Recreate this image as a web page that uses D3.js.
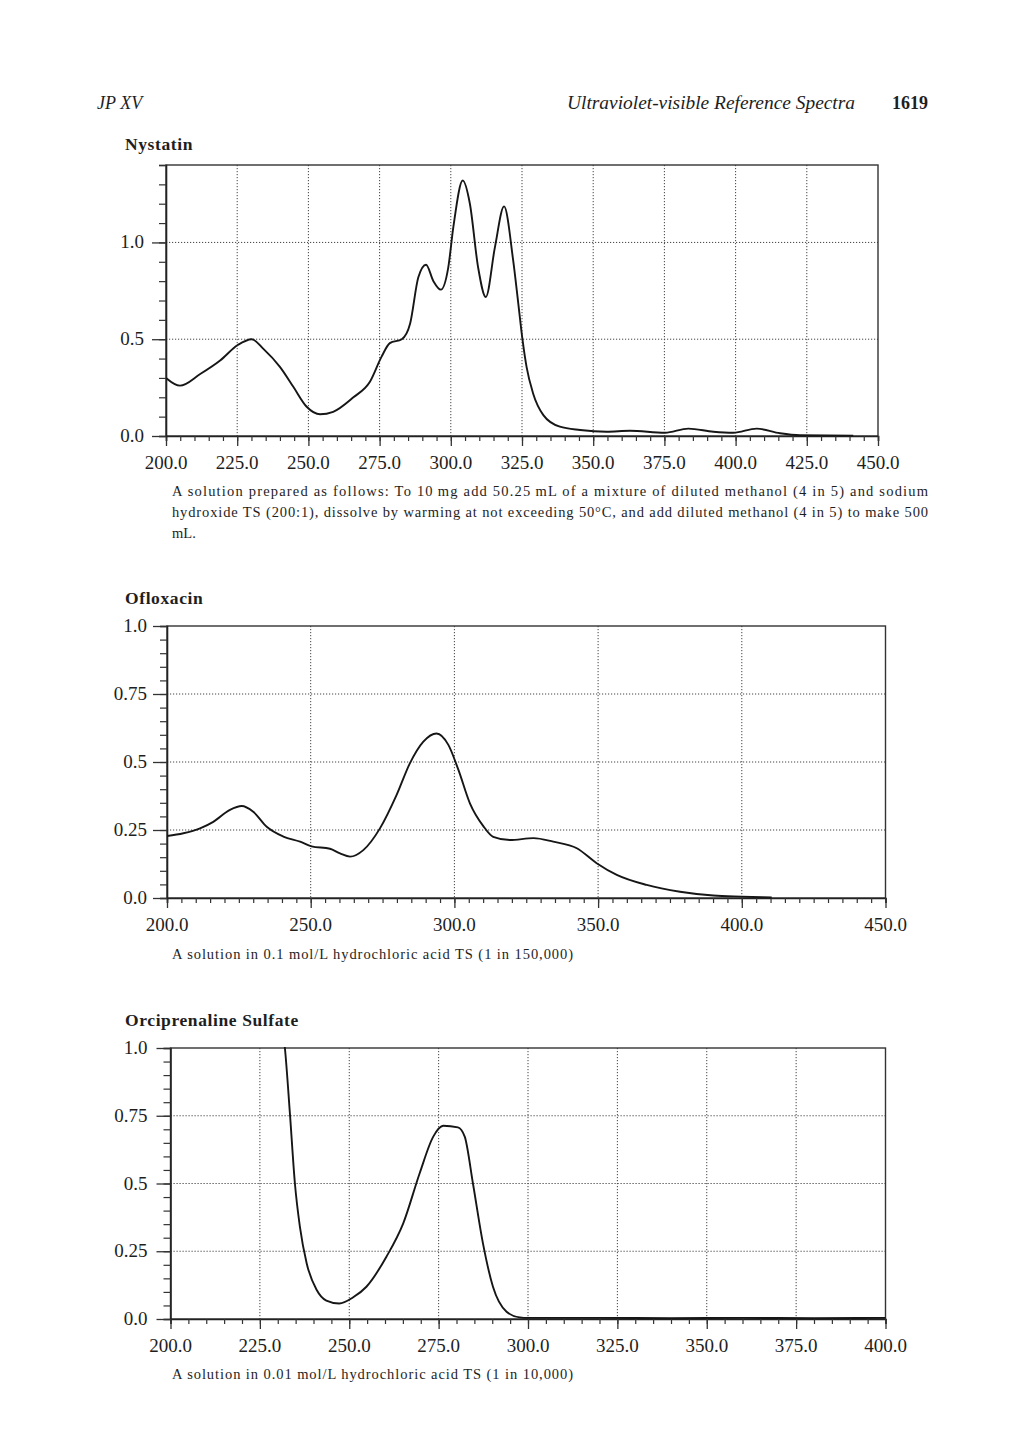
<!DOCTYPE html>
<html>
<head>
<meta charset="utf-8">
<script src="https://cdn.jsdelivr.net/npm/d3@7"></script>
<style>
  html, body { margin: 0; padding: 0; background: #fff; }
  svg { display: block; }
</style>
</head>
<body>
<svg id="page" width="1020" height="1443"></svg>
<script>
// ---------------- DATA ----------------
// Nystatin spectrum (wavelength nm, absorbance)
const nystatinWavelength = [200, 204.9, 212, 219, 225.2, 230.1, 234.2, 240, 244.7, 249.4, 254.1, 258.7, 265.8, 271.6, 275.7, 278.6, 282.8, 285.7, 288.6, 291.3, 293.9, 296.5, 299.1, 300.9, 304.2, 306.7, 309.6, 312.3, 315.5, 318.7, 321.9, 323.7, 325.2, 326.6, 328.9, 332.5, 338.3, 345.4, 354.7, 362.9, 375.2, 383.4, 392.2, 399.2, 407.4, 415.6, 422.6, 441.3];
const nystatinAbsorbance = [0.30, 0.26, 0.32, 0.39, 0.47, 0.50, 0.45, 0.357, 0.254, 0.151, 0.112, 0.125, 0.20, 0.28, 0.41, 0.48, 0.50, 0.58, 0.82, 0.885, 0.80, 0.756, 0.87, 1.08, 1.32, 1.20, 0.87, 0.718, 0.976, 1.186, 0.907, 0.684, 0.495, 0.357, 0.22, 0.108, 0.048, 0.031, 0.022, 0.027, 0.017, 0.038, 0.022, 0.017, 0.038, 0.014, 0.004, 0.002];
const nystatinXTicks = [200, 225, 250, 275, 300, 325, 350, 375, 400, 425, 450];
const nystatinXTickLabels = ["200.0", "225.0", "250.0", "275.0", "300.0", "325.0", "350.0", "375.0", "400.0", "425.0", "450.0"];
const nystatinYTicks = [0, 0.5, 1.0];
const nystatinYTickLabels = ["0.0", "0.5", "1.0"];

// Ofloxacin spectrum
const ofloxacinWavelength = [200, 205.7, 211.5, 216.1, 221.9, 226, 230, 234.7, 240.5, 246.3, 250.3, 256.7, 260.2, 263.7, 268.3, 274.1, 279.9, 284.5, 289.2, 293.8, 297.9, 301.4, 305.4, 310, 313.5, 319.3, 327.5, 334.4, 342.6, 349.5, 356.5, 366.9, 378.5, 390.1, 400, 410.4];
const ofloxacinAbsorbance = [0.228, 0.238, 0.256, 0.28, 0.324, 0.338, 0.317, 0.262, 0.226, 0.207, 0.19, 0.181, 0.164, 0.152, 0.176, 0.256, 0.379, 0.495, 0.575, 0.605, 0.563, 0.471, 0.348, 0.265, 0.225, 0.213, 0.22, 0.207, 0.183, 0.128, 0.085, 0.048, 0.023, 0.009, 0.005, 0.002];
const ofloxacinXTicks = [200, 250, 300, 350, 400, 450];
const ofloxacinXTickLabels = ["200.0", "250.0", "300.0", "350.0", "400.0", "450.0"];
const ofloxacinYTicks = [0, 0.25, 0.5, 0.75, 1.0];
const ofloxacinYTickLabels = ["0.0", "0.25", "0.5", "0.75", "1.0"];

// Orciprenaline Sulfate spectrum
const orciWavelength = [231.5, 232, 233.4, 234.8, 236.2, 238.1, 240.9, 243.6, 247.2, 251.1, 254.8, 260.4, 265.1, 269.7, 273.5, 276.3, 280.4, 282.3, 284.6, 287.4, 290.2, 294, 297.7, 300, 320, 340, 360, 380, 400];
const orciAbsorbance = [1.06, 1.0, 0.759, 0.50, 0.34, 0.205, 0.107, 0.068, 0.057, 0.08, 0.119, 0.23, 0.353, 0.538, 0.673, 0.713, 0.707, 0.673, 0.50, 0.279, 0.119, 0.027, 0.006, 0.004, 0.004, 0.003, 0.004, 0.003, 0.004];
const orciXTicks = [200, 225, 250, 275, 300, 325, 350, 375, 400];
const orciXTickLabels = ["200.0", "225.0", "250.0", "275.0", "300.0", "325.0", "350.0", "375.0", "400.0"];
const orciYTicks = [0, 0.25, 0.5, 0.75, 1.0];
const orciYTickLabels = ["0.0", "0.25", "0.5", "0.75", "1.0"];

// Texts
const headerLeft = "JP XV";
const headerTitle = "Ultraviolet-visible Reference Spectra";
const headerPage = "1619";
const titles = ["Nystatin", "Ofloxacin", "Orciprenaline Sulfate"];
const nystatinCaption = [
  "A solution prepared as follows: To 10\u2009mg add 50.25\u2009mL of a mixture of diluted methanol (4 in 5) and sodium",
  "hydroxide TS (200:1), dissolve by warming at not exceeding 50\u00B0C, and add diluted methanol (4 in 5) to make 500",
  "mL."
];
const ofloxacinCaption = ["A solution in 0.1 mol/L hydrochloric acid TS (1 in 150,000)"];
const orciCaption = ["A solution in 0.01 mol/L hydrochloric acid TS (1 in 10,000)"];

// ---------------- DRAWING ----------------
const svg = d3.select("#page");
const SERIF = "'Liberation Serif', 'Times New Roman', serif";
const INK = "#1e1e1e";

// Header
svg.append("text").attr("x", 97).attr("y", 109)
  .attr("font-family", SERIF).attr("font-style", "italic").attr("font-size", 18)
  .attr("fill", INK).text(headerLeft);
svg.append("text").attr("x", 567).attr("y", 109)
  .attr("font-family", SERIF).attr("font-style", "italic").attr("font-size", 18)
  .attr("textLength", 288).attr("lengthAdjust", "spacingAndGlyphs")
  .attr("fill", INK).text(headerTitle);
svg.append("text").attr("x", 928).attr("y", 109).attr("text-anchor", "end")
  .attr("font-family", SERIF).attr("font-weight", "bold").attr("font-size", 18)
  .attr("fill", INK).text(headerPage);

function drawTitle(txt, yBase) {
  svg.append("text").attr("x", 125).attr("y", yBase)
    .attr("font-family", SERIF).attr("font-weight", "bold").attr("font-size", 17.5)
    .attr("letter-spacing", 0.6)
    .attr("fill", INK).text(txt);
}

function drawCaption(lines, yBase, widths) {
  lines.forEach((ln, i) => {
    const t = svg.append("text").attr("x", 172).attr("y", yBase + i * 21)
      .attr("font-family", SERIF).attr("font-size", 14.5)
      .attr("fill", INK).text(ln);
    if (widths[i]) t.attr("textLength", widths[i]).attr("lengthAdjust", "spacing");
  });
}

function drawChart(cfg) {
  const g = svg.append("g");
  const x = d3.scaleLinear().domain(cfg.xDomain).range([cfg.left, cfg.right]);
  const y = d3.scaleLinear().domain(cfg.yDomain).range([cfg.bottom, cfg.top]);

  // grid
  const gridColor = "#444";
  g.append("g").selectAll("line").data(cfg.xTicks.filter(v => v > cfg.xDomain[0] && v < cfg.xDomain[1]))
    .join("line")
    .attr("x1", d => x(d)).attr("x2", d => x(d))
    .attr("y1", cfg.top).attr("y2", cfg.bottom)
    .attr("stroke", gridColor).attr("stroke-width", 1).attr("stroke-dasharray", "1.2,1.8");
  g.append("g").selectAll("line").data(cfg.yTicks.filter(v => v > cfg.yDomain[0] && v < cfg.yDomain[1]))
    .join("line")
    .attr("x1", cfg.left).attr("x2", cfg.right)
    .attr("y1", d => y(d)).attr("y2", d => y(d))
    .attr("stroke", gridColor).attr("stroke-width", 1).attr("stroke-dasharray", "1.2,1.8");

  // frame
  g.append("rect").attr("x", cfg.left).attr("y", cfg.top)
    .attr("width", cfg.right - cfg.left).attr("height", cfg.bottom - cfg.top)
    .attr("fill", "none").attr("stroke", "#333").attr("stroke-width", 1.4);

  // minor x ticks (every 5 nm)
  const xMinor = d3.range(cfg.xDomain[0], cfg.xDomain[1] + 0.001, 5);
  const xAxisMinor = d3.axisBottom(x).tickValues(xMinor).tickSize(5).tickFormat("");
  const gxm = g.append("g").attr("transform", `translate(0,${cfg.bottom})`).call(xAxisMinor);
  gxm.select(".domain").attr("stroke", "#222").attr("stroke-width", 1.6);
  gxm.selectAll(".tick line").attr("stroke", "#333").attr("stroke-width", 1.2);
  // major x ticks
  const xAxisMajor = d3.axisBottom(x).tickValues(cfg.xTicks).tickSize(10).tickFormat("");
  const gxM = g.append("g").attr("transform", `translate(0,${cfg.bottom})`).call(xAxisMajor);
  gxM.select(".domain").remove();
  gxM.selectAll(".tick line").attr("stroke", "#333").attr("stroke-width", 1.3);

  // minor y ticks
  const yMinor = d3.range(cfg.yDomain[0], cfg.yDomain[1] - 1e-9 + cfg.yMinorStep * 0.5, cfg.yMinorStep).map(v => +v.toFixed(3));
  const yAxisMinor = d3.axisLeft(y).tickValues(yMinor).tickSize(7).tickFormat("");
  const gym = g.append("g").attr("transform", `translate(${cfg.left},0)`).call(yAxisMinor);
  gym.select(".domain").attr("stroke", "#222").attr("stroke-width", 1.6);
  gym.selectAll(".tick line").attr("stroke", "#333").attr("stroke-width", 1.2);
  const yAxisMajor = d3.axisLeft(y).tickValues(cfg.yTicks).tickSize(14).tickFormat("");
  const gyM = g.append("g").attr("transform", `translate(${cfg.left},0)`).call(yAxisMajor);
  gyM.select(".domain").remove();
  gyM.selectAll(".tick line").attr("stroke", "#333").attr("stroke-width", 1.3);

  // x labels
  g.append("g").selectAll("text").data(cfg.xTicks).join("text")
    .attr("x", d => x(d)).attr("y", cfg.bottom + 33)
    .attr("text-anchor", "middle")
    .attr("font-family", SERIF).attr("font-size", 19).attr("fill", INK)
    .text((d, i) => cfg.xTickLabels[i]);
  // y labels
  g.append("g").selectAll("text").data(cfg.yTicks).join("text")
    .attr("x", cfg.left - cfg.yLabelGap).attr("y", d => y(d) + 6)
    .attr("text-anchor", "end")
    .attr("font-family", SERIF).attr("font-size", 19).attr("fill", INK)
    .text((d, i) => cfg.yTickLabels[i]);

  // spectrum line
  const clipId = "clip" + Math.round(cfg.top);
  svg.append("clipPath").attr("id", clipId).append("rect")
    .attr("x", cfg.left).attr("y", cfg.top - 1)
    .attr("width", cfg.right - cfg.left).attr("height", cfg.bottom - cfg.top + 2);
  const pts = cfg.wl.map((w, i) => [w, cfg.abs[i]]);
  const line = d3.line().x(d => x(d[0])).y(d => y(d[1])).curve(d3.curveMonotoneX);
  g.append("path").datum(pts).attr("d", line)
    .attr("clip-path", `url(#${clipId})`)
    .attr("fill", "none").attr("stroke", "#161616").attr("stroke-width", 1.9)
    .attr("stroke-linejoin", "round");
}

// Nystatin
drawTitle(titles[0], 150);
drawChart({
  left: 166, right: 878, top: 165, bottom: 436, yLabelGap: 22,
  xDomain: [200, 450], yDomain: [0, 1.4], yMinorStep: 0.1,
  xTicks: nystatinXTicks, xTickLabels: nystatinXTickLabels,
  yTicks: nystatinYTicks, yTickLabels: nystatinYTickLabels,
  wl: nystatinWavelength, abs: nystatinAbsorbance
});
drawCaption(nystatinCaption, 496, [756, 756, 0]);

// Ofloxacin
drawTitle(titles[1], 604);
drawChart({
  left: 167, right: 885.5, top: 626, bottom: 898, yLabelGap: 20,
  xDomain: [200, 450], yDomain: [0, 1.0], yMinorStep: 0.05,
  xTicks: ofloxacinXTicks, xTickLabels: ofloxacinXTickLabels,
  yTicks: ofloxacinYTicks, yTickLabels: ofloxacinYTickLabels,
  wl: ofloxacinWavelength, abs: ofloxacinAbsorbance
});
drawCaption(ofloxacinCaption, 959, [401]);

// Orciprenaline Sulfate
drawTitle(titles[2], 1026);
drawChart({
  left: 170.5, right: 885.5, top: 1048, bottom: 1319, yLabelGap: 23,
  xDomain: [200, 400], yDomain: [0, 1.0], yMinorStep: 0.05,
  xTicks: orciXTicks, xTickLabels: orciXTickLabels,
  yTicks: orciYTicks, yTickLabels: orciYTickLabels,
  wl: orciWavelength, abs: orciAbsorbance
});
drawCaption(orciCaption, 1379, [401]);
</script>
</body>
</html>
